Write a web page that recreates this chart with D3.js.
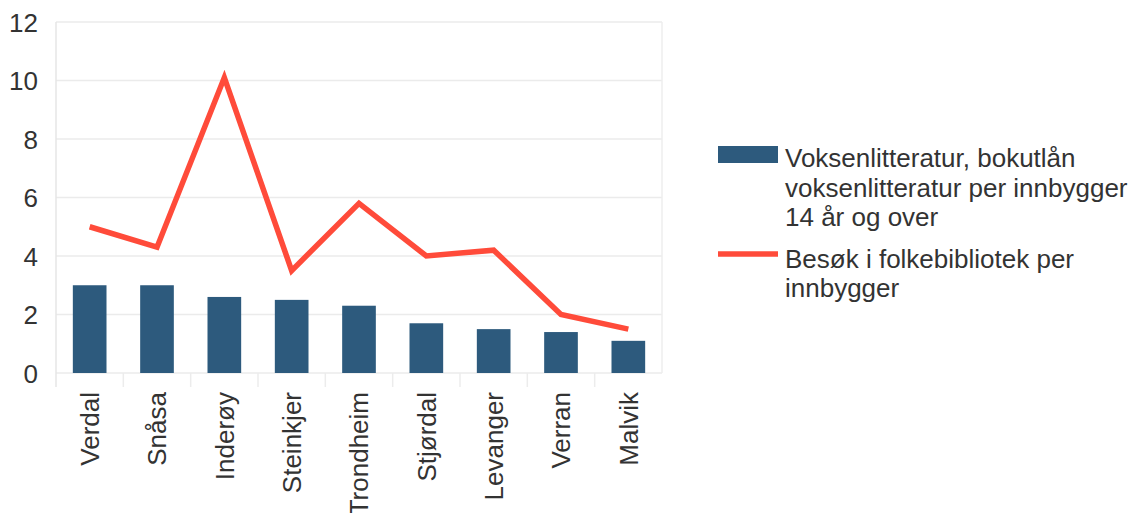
<!DOCTYPE html>
<html>
<head>
  <meta charset="utf-8">
  <title>Bokutlån og besøk</title>
  <style>
    body { margin: 0; background: #fff; }
    text { font-family: "Liberation Sans", Arial, sans-serif; fill: #333; }
    .grid line { stroke: #ebebeb; stroke-width: 1.5px; }
  </style>
</head>
<body>
  <script src="https://d3js.org/d3.v7.min.js"></script>
  <svg width="1134" height="513"></svg>
  <script>
    var kommuner = ["Verdal", "Snåsa", "Inderøy", "Steinkjer", "Trondheim", "Stjørdal", "Levanger", "Verran", "Malvik"];
    var bokutlan = [3.0, 3.0, 2.6, 2.5, 2.3, 1.7, 1.5, 1.4, 1.1];
    var besok = [5.0, 4.3, 10.1, 3.5, 5.8, 4.0, 4.2, 2.0, 1.5];
    var yTicks = [0, 2, 4, 6, 8, 10, 12];
    var legendBar = ["Voksenlitteratur, bokutlån", "voksenlitteratur per innbygger", "14 år og over"];
    var legendLine = ["Besøk i folkebibliotek per", "innbygger"];

    var svg = d3.select("svg");
    var plotLeft = 56, plotRight = 662, plotTop = 22, plotBottom = 373;
    var fontSize = "26px";

    var x = d3.scaleBand().domain(kommuner).range([plotLeft, plotRight]).paddingInner(0.5).paddingOuter(0.25);
    var y = d3.scaleLinear().domain([0, 12]).range([plotBottom, plotTop]);

    // gridlines
    svg.append("g").attr("class", "grid")
      .selectAll("line").data(yTicks).enter().append("line")
      .attr("x1", plotLeft).attr("x2", plotRight)
      .attr("y1", function(d) { return y(d); })
      .attr("y2", function(d) { return y(d); });

    // faint frame lines
    svg.append("line").attr("x1", plotLeft).attr("x2", plotLeft).attr("y1", plotTop).attr("y2", plotBottom + 14)
      .attr("stroke", "#e6e6e6").attr("stroke-width", 1.5);
    svg.append("line").attr("x1", plotRight).attr("x2", plotRight).attr("y1", plotTop).attr("y2", plotBottom)
      .attr("stroke", "#eeeeee").attr("stroke-width", 1.5);

    // category separators below the axis
    svg.append("g").selectAll("line").data(kommuner.slice(1)).enter().append("line")
      .attr("x1", function(d) { return x(d) - x.bandwidth() / 2; })
      .attr("x2", function(d) { return x(d) - x.bandwidth() / 2; })
      .attr("y1", plotBottom).attr("y2", plotBottom + 14)
      .attr("stroke", "#ececec").attr("stroke-width", 1.5);

    // y axis
    var yAxis = svg.append("g").attr("transform", "translate(" + plotLeft + ",0)")
      .call(d3.axisLeft(y).tickValues(yTicks).tickSize(0).tickPadding(18));
    yAxis.select(".domain").remove();
    yAxis.selectAll("text").style("font-size", fontSize).attr("fill", "#333").attr("dy", "0.36em");

    // bars
    svg.append("g").selectAll("rect").data(bokutlan).enter().append("rect")
      .attr("x", function(d, i) { return x(kommuner[i]); })
      .attr("width", x.bandwidth())
      .attr("y", function(d) { return y(d); })
      .attr("height", function(d) { return plotBottom - y(d); })
      .attr("fill", "#2d5a7d");

    // line
    var line = d3.line()
      .x(function(d, i) { return x(kommuner[i]) + x.bandwidth() / 2; })
      .y(function(d) { return y(d); });
    svg.append("path").datum(besok)
      .attr("d", line)
      .attr("fill", "none")
      .attr("stroke", "#ff4b3a")
      .attr("stroke-width", 5.5)
      .attr("stroke-linejoin", "miter");

    // x labels
    var xAxis = svg.append("g").attr("transform", "translate(0," + plotBottom + ")")
      .call(d3.axisBottom(x).tickSize(0));
    xAxis.select(".domain").remove();
    xAxis.selectAll("text")
      .style("font-size", fontSize)
      .attr("fill", "#333")
      .attr("text-anchor", "end")
      .attr("transform", "rotate(-90)")
      .attr("x", -19)
      .attr("y", 0)
      .attr("dy", "0.36em");

    // legend
    var lg = svg.append("g");
    lg.append("rect").attr("x", 718).attr("y", 146).attr("width", 60).attr("height", 17).attr("fill", "#2d5a7d");
    lg.append("g").selectAll("text").data(legendBar).enter().append("text")
      .attr("x", 785).attr("y", function(d, i) { return 167 + i * 29.5; })
      .style("font-size", fontSize).text(function(d) { return d; });
    lg.append("line").attr("x1", 718).attr("x2", 778).attr("y1", 254).attr("y2", 254)
      .attr("stroke", "#ff4b3a").attr("stroke-width", 5.5);
    lg.append("g").selectAll("text").data(legendLine).enter().append("text")
      .attr("x", 785).attr("y", function(d, i) { return 268 + i * 29; })
      .style("font-size", fontSize).text(function(d) { return d; });
  </script>
</body>
</html>
